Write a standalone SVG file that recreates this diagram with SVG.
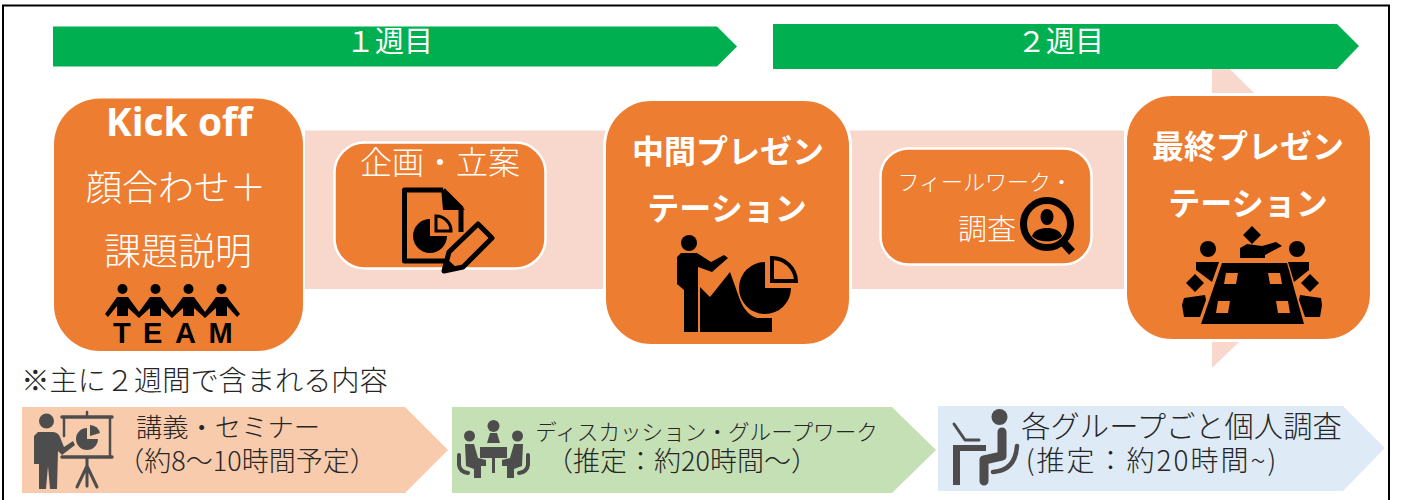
<svg xmlns="http://www.w3.org/2000/svg" width="1404" height="500" viewBox="0 0 1404 500">
<style>
text{font-family:"Noto Sans CJK JP","Noto Sans",sans-serif;text-anchor:middle}
.w{fill:#fff}
.k{fill:#262626}
.b{font-weight:700}
.o{fill:#ED7D31}
.s{stroke:#fff;stroke-width:3}
.ic{fill:#000}
.g{fill:#4D4D4D}
.gl{fill:none;stroke:#4D4D4D;stroke-linecap:round;stroke-linejoin:round}
.band{fill:#F8D7CD}
.hd{fill:#00B050}
</style>
<rect width="1404" height="500" fill="#fff"/>
<rect id="frame" x="3" y="5.5" width="1386" height="520" fill="none" stroke="#000" stroke-width="2"/>
<g id="connectors">
<rect class="band" x="305" y="130.500" width="819" height="158.500"/>
<polygon class="band" points="1212,69 1230,69 1254,93 1212,93"/>
<polygon class="band" points="1212,342 1239,342 1212,368"/>
</g>
<g id="week1">
<polygon class="hd" points="53,26.500 717,26.500 737,46.500 717,66.500 53,66.500"/>
<text class="w" x="389.500" y="52" font-size="29">１週目</text>
</g>
<g id="week2">
<polygon class="hd" points="773,24 1337,24 1359,46 1337,69 773,69"/>
<text class="w" x="1060.500" y="52" font-size="29">２週目</text>
</g>
<g id="kickoff">
<rect class="o" x="54" y="98.500" width="249" height="252.500" rx="46"/>
<text class="w b" x="179" y="136" font-size="39" style="font-family:'Open Sans',sans-serif">Kick off</text>
<text class="w" x="176" y="201" font-size="36" font-weight="300">顔合わせ＋</text>
<text class="w" x="178" y="265" font-size="37" font-weight="300">課題説明</text>
<g class="ic">
<circle cx="122.500" cy="289" r="5"/><circle cx="155.500" cy="289" r="5"/><circle cx="188.500" cy="289" r="5"/><circle cx="221.500" cy="289" r="5"/>
<path d="M105,314 L117,297 L128,297 L139,312 L150,297 L161,297 L172,312 L183,297 L194,297 L205,312 L216,297 L227,297 L240,314 L237,317 L227,306 L227,316 L216,316 L216,308 L205,318 L194,308 L194,316 L183,316 L183,308 L172,318 L161,308 L161,316 L150,316 L150,308 L139,318 L128,308 L128,316 L117,316 L117,306 L108,317 Z"/>
</g>
<text class="ic b" x="179" y="342.500" font-size="29" letter-spacing="12.500" style="font-family:'Liberation Sans',sans-serif">TEAM</text>
</g>
<g id="plan">
<rect class="o" x="334.500" y="142.500" width="211" height="126" rx="30" stroke="#fff" stroke-width="2.500"/>
<text class="w" x="440" y="174" font-size="32" font-weight="300">企画・立案</text>
<path fill="none" stroke="#000" stroke-width="5" stroke-linejoin="round" d="M443,190 L404.500,190 L404.500,261 L448,261 M443,190 L461,208 L461,232"/>
<path d="M441,188 L465,210 L443,210 Z"/>
<path d="M430,236 L430,219 A17,17 0 1 0 447,236 Z" fill="#000"/>
<path d="M436,231 L436,216 A15,15 0 0 1 451,231 Z" fill="none" stroke="#000" stroke-width="3"/>
<path d="M444,271 L449,252 L478,224 L492,238 L463,267 Z" class="o" stroke="#000" stroke-width="5" stroke-linejoin="round"/>
<path d="M442,273 L446,258 L457,268 Z"/>
</g>
<g id="midterm">
<rect class="o s" x="604.500" y="99.500" width="246" height="246" rx="47"/>
<text class="w b" x="728" y="163" font-size="32">中間プレゼン</text>
<text class="w b" x="727" y="220" font-size="32">テーション</text>
<circle cx="689" cy="243" r="8"/>
<path d="M681,253 L697,253 L711,262 L724,255 L728,258 L712,272 L698,267 L698,332 L684,332 L684,290 L677,284 L677,257 Z"/>
<path d="M700,287 L710,297 L730,272 L740,300 C744,310 750,316 757,318 L772,318 L772,332 L700,332 Z"/>
<path d="M765,288 L765,262 A26,26 0 1 0 791,288 Z"/>
<path d="M772,281 L772,258 A24,24 0 0 1 796,281 Z" fill="none" stroke="#000" stroke-width="4"/>
</g>
<g id="fieldwork">
<rect class="o" x="880.500" y="148.500" width="211" height="116" rx="28" stroke="#fff" stroke-width="2.500"/>
<text class="w" x="985" y="190" font-size="22" font-weight="300">フィールワーク・</text>
<text class="w" x="987" y="240" font-size="29" font-weight="300">調査</text>
<circle cx="1047" cy="224" r="23.500" fill="none" stroke="#000" stroke-width="7"/>
<path d="M1063,242 L1072,252" stroke="#000" stroke-width="8"/>
<ellipse cx="1047" cy="217" rx="6.500" ry="8"/>
<path d="M1032,236 C1034,230 1041,228 1047,228 C1053,228 1060,230 1062,236 C1057,243 1037,243 1032,236 Z"/>
</g>
<g id="final">
<rect class="o s" x="1125.500" y="94.500" width="246" height="246" rx="47"/>
<text class="w b" x="1248" y="158" font-size="32">最終プレゼン</text>
<text class="w b" x="1248" y="215" font-size="32">テーション</text>
<path d="M1252,226 L1261,235 L1252,244 L1243,235 Z"/>
<path d="M1240,258 L1240,248 L1247,244 L1262,246 L1276,242 L1282,246 L1265,255 L1265,258 Z"/>
<circle cx="1208" cy="249" r="8"/><circle cx="1297" cy="249" r="8"/>
<path d="M1195,274 L1204,283 L1195,292 L1186,283 Z"/>
<path d="M1310,274 L1319,283 L1310,292 L1301,283 Z"/>
<path d="M1196,262 L1219,262 L1212,282 L1196,270 Z"/>
<path d="M1309,262 L1288,262 L1294,282 L1309,270 Z"/>
<path d="M1184,298 L1205,295 L1206,300 L1200,317 L1184,317 L1182,305 Z"/>
<path d="M1321,298 L1300,295 L1299,300 L1305,317 L1320,317 L1322,305 Z"/>
<path d="M1222,263 L1287,263 L1304,324 L1201,324 Z"/>
<g class="o">
<polygon points="1226,273 1238,273 1236,284 1224,284"/>
<polygon points="1268,273 1280,273 1282,284 1270,284"/>
<polygon points="1218,301 1230,301 1228,313 1216,313"/>
<polygon points="1276,301 1288,301 1290,313 1278,313"/>
</g>
</g>
<g id="note">
<text class="k" x="204.500" y="391" font-size="28.200" font-weight="300">※主に２週間で含まれる内容</text>
</g>
<g id="lecture">
<polygon fill="#F8CBAD" points="22,407 405,407 448,450 405,493 22,493"/>
<circle cx="46.500" cy="421" r="7.500" class="g"/>
<path class="g" d="M38,432 L52,432 Q58,432 60,437 L64,447 L73,441 L75,445 L62,455 L58,451 L57,489 L50,489 L48,466 L46,489 L39,489 L39,464 L34,464 L34,436 Z"/>
<g class="gl" stroke-width="3">
<path stroke-width="3.500" d="M62,417 L112,417 M62,457 L112,457"/>
<path stroke-width="2.500" d="M64,418 L64,436 M110,418 L110,456 M87,412 L87,416"/>
<path d="M87,458 L87,486 M87,466 L77,487 M87,466 L97,487"/>
</g>
<path class="g" d="M87,428 A11,11 0 1 0 98,439 L87,439 Z"/>
<path class="g" d="M90,425 A11,11 0 0 1 100,433 L90,436 Z"/>
<text class="k" font-weight="300"><tspan x="228" y="437" font-size="26.300">講義・セミナー</tspan><tspan x="247" y="471" font-size="27">（約8～10時間予定）</tspan></text>
</g>
<g id="discussion">
<polygon fill="#C5E0B4" points="452,407 892,407 936,450 892,493 452,493"/>
<circle cx="493.500" cy="426" r="6" class="g"/><circle cx="469.500" cy="436" r="5.500" class="g"/><circle cx="517.500" cy="436" r="5.500" class="g"/>
<path class="g" d="M487,443 L490,433 L497,433 L500,443 Z"/>
<path class="g" d="M480,447 L507,447 L507,458 L480,458 Z M492,458 L495,458 L495,473 L492,473 Z"/>
<path class="g" d="M465,444 L474,444 L478,458 L486,460 L486,466 L481,466 L481,478 L474,478 L474,469 L466,466 Z"/>
<path class="g" d="M523,444 L514,444 L510,458 L502,460 L502,466 L507,466 L507,478 L514,478 L514,469 L522,466 Z"/>
<path class="gl" stroke-width="4" d="M459,455 L459,465 Q460,472 468,473 M528,455 L528,465 Q527,472 519,473"/>
<text class="k" font-weight="300"><tspan x="706.500" y="440" font-size="21.600">ディスカッション・グループワーク</tspan><tspan x="682" y="471" font-size="27">（推定：約20時間～）</tspan></text>
</g>
<g id="research">
<polygon fill="#DEEAF6" points="938,406 1343,406 1385,448 1343,491 938,491"/>
<circle cx="999.500" cy="417" r="8" class="g"/>
<path class="gl" stroke-width="3" d="M954,424 L965,440 L979,440"/>
<path class="g" d="M953,445 L986,445 L986,451 L960,451 L960,485 L953,485 Z"/>
<path class="gl" stroke-width="9" d="M1002,432 L1002,456 L984,460 L984,481"/>
<path class="gl" stroke-width="4.500" d="M1017,446 C1016,460 1010,471 993,472"/>
<text class="k" font-weight="300"><tspan x="1181.500" y="437" font-size="29.300">各グループごと個人調査</tspan><tspan x="1152" y="471" font-size="28" letter-spacing="2">(推定：約20時間~)</tspan></text>
</g>
</svg>
